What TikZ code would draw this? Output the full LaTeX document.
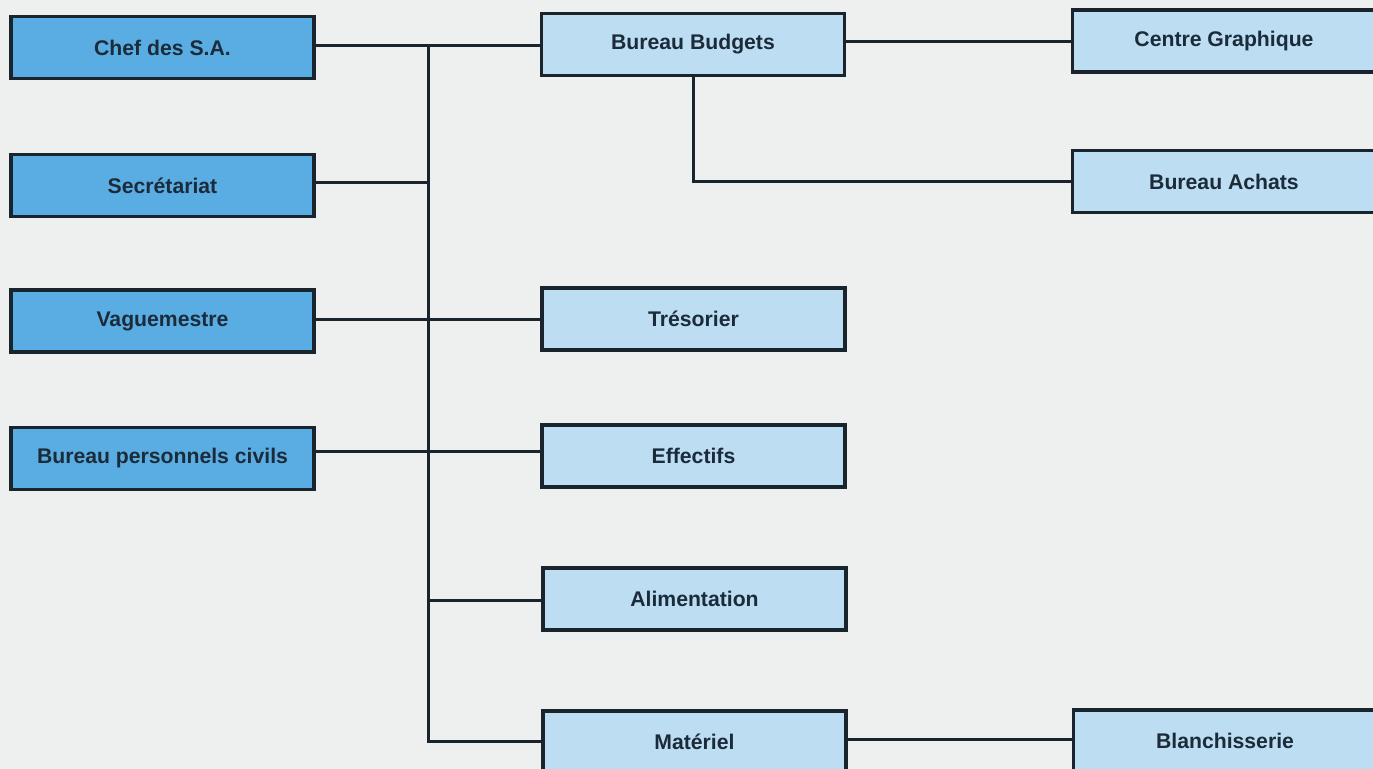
\documentclass[tikz,border=0pt]{standalone}
\usepackage{fontspec}
\setmainfont{Liberation Sans}
\definecolor{bgc}{HTML}{EEF0EF}
\definecolor{darkbox}{HTML}{5AADE2}
\definecolor{lightbox}{HTML}{BCDDF2}
\definecolor{edge}{HTML}{1A242C}
\definecolor{txt}{HTML}{1C2B3A}
\begin{document}
\begin{tikzpicture}[x=0.5pt,y=-0.5pt,
  orgbox/.style={draw=edge,line width=1.6pt,rectangle,minimum width=151.5pt,minimum height=31pt,inner sep=0pt,
    font=\fontsize{10.6pt}{12pt}\selectfont\bfseries,text=txt},
  headbox/.style={orgbox,fill=darkbox},
  subbox/.style={orgbox,fill=lightbox},
  link/.style={draw=edge,line width=1.5pt}]
\useasboundingbox[fill=bgc] (0,0) rectangle (1373,769);
% left column
\node[headbox] (chef) at (162.5,47.5) {Chef des S.A.};
\node[headbox] (sec) at (162.5,185.5) {Secrétariat};
\node[headbox] (vag) at (162.5,321) {Vaguemestre};
\node[headbox] (bpc) at (162.5,458.5) {Bureau personnels civils};
% middle column
\node[subbox] (budgets) at (693,44.5) {Bureau Budgets};
\node[subbox] (tres) at (693.5,319) {Trésorier};
\node[subbox] (eff) at (693.5,456) {Effectifs};
\node[subbox] (alim) at (694.5,599) {Alimentation};
\node[subbox] (mat) at (694.5,742) {Matériel};
% right column
\node[subbox] (centre) at (1224,41) {Centre Graphique};
\node[subbox] (achats) at (1224,181.5) {Bureau Achats};
\node[subbox] (blanch) at (1225,741) {Blanchisserie};
% trunk coordinates
\coordinate (t) at (428,46);
\coordinate (r2) at (428,183);
\coordinate (r3) at (428,320);
\coordinate (r4) at (428,452);
\coordinate (r5) at (428,601);
\coordinate (b) at (428,742);
\coordinate (g) at (960,42);
\coordinate (m) at (960,740);
% connectors
\draw[link] (chef.east |- t) -- (budgets.west |- t);
\draw[link] (t) -- (b) -- (mat.west |- b);
\draw[link] (sec.east |- r2) -- (r2);
\draw[link] (vag.east |- r3) -- (tres.west |- r3);
\draw[link] (bpc.east |- r4) -- (eff.west |- r4);
\draw[link] (r5) -- (alim.west |- r5);
\draw[link] (budgets.east |- g) -- (centre.west |- g);
\draw[link] (budgets.south) |- (achats.west);
\draw[link] (mat.east |- m) -- (blanch.west |- m);
\end{tikzpicture}
\end{document}
